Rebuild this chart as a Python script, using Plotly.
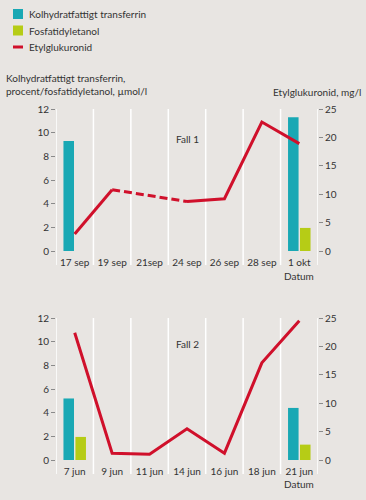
import plotly.graph_objects as go

# ---------------- data ----------------
categories1 = ["17 sep", "19 sep", "21sep", "24 sep", "26 sep", "28 sep", "1 okt"]
cdt1 = [9.3, None, None, None, None, None, 11.3]        # Kolhydratfattigt transferrin, %
peth1 = [None, None, None, None, None, None, 1.95]      # Fosfatidyletanol, µmol/l
etg1 = [3.0, 10.8, None, 8.7, 9.2, 22.7, 18.9]          # Etylglukuronid, mg/l

categories2 = ["7 jun", "9 jun", "11 jun", "14 jun", "16 jun", "18 jun", "21 jun"]
cdt2 = [5.2, None, None, None, None, None, 4.4]
peth2 = [1.95, None, None, None, None, None, 1.3]
etg2 = [22.4, 1.2, 1.0, 5.5, 1.2, 17.1, 24.5]

left_ticks = [0, 2, 4, 6, 8, 10, 12]
right_ticks = [0, 5, 10, 15, 20, 25]

# ---------------- style ----------------
W, H = 366, 500
ML, MR, MT, MB = 56, 48, 109, 40
PW, PH = W - ML - MR, H - MT - MB
BG = "#e8e5e2"
TEAL = "#19a8b4"
GREEN = "#b6cc16"
RED = "#d0102b"
TXT = "#333333"
FONT = "Lato"
FS = 10


def px_x(p):
    return (p - ML) / PW


def px_y(p):
    return 1 - (p - MT) / PH


dom1 = [px_y(251), 1.0]
dom2 = [0.0, px_y(318)]
panel_h = 251 - 109
ext = -14 / panel_h   # gridlines extend below the zero line

fig = go.Figure()

panels = [
    (categories1, cdt1, peth1, etg1, "x", "y", "y3"),
    (categories2, cdt2, peth2, etg2, "x2", "y2", "y4"),
]

shapes = []
for cats, cdt, peth, etg, xa, ya, ya_r in panels:
    # white column separators
    for i in range(len(cats) + 1):
        shapes.append(dict(type="line", xref=xa, yref=ya + " domain", x0=i - 0.5, x1=i - 0.5,
                           y0=ext, y1=1, layer="below", line=dict(color="white", width=1.5)))
    fig.add_trace(go.Bar(x=cats, y=cdt, marker=dict(color=TEAL, line=dict(width=0)),
                         xaxis=xa, yaxis=ya, showlegend=False, name="Kolhydratfattigt transferrin"))
    fig.add_trace(go.Bar(x=cats, y=peth, marker=dict(color=GREEN, line=dict(width=0)),
                         xaxis=xa, yaxis=ya, showlegend=False, name="Fosfatidyletanol"))
    fig.add_trace(go.Scatter(x=cats, y=etg, mode="lines", line=dict(color=RED, width=3),
                             connectgaps=False, xaxis=xa, yaxis=ya_r, showlegend=False,
                             name="Etylglukuronid"))
    # dashed segment across missing measurement
    for i, v in enumerate(etg):
        if v is None and 0 < i < len(etg) - 1:
            fig.add_trace(go.Scatter(x=[cats[i - 1], cats[i + 1]], y=[etg[i - 1], etg[i + 1]],
                                     mode="lines", line=dict(color=RED, width=3, dash="8px,4px"),
                                     xaxis=xa, yaxis=ya_r, showlegend=False))

xcommon = dict(type="category", ticks="", showgrid=False, showline=False, zeroline=False,
               tickangle=0, tickfont=dict(size=FS, color=TXT, family=FONT),
               ticklabelstandoff=4, range=[-0.5, 6.5])
ycommon = dict(ticks="outside", ticklen=4, tickcolor="#8a8a8a", tickwidth=1,
               showgrid=False, zeroline=False, showline=False,
               tickfont=dict(size=FS, color=TXT, family=FONT))

fig.update_layout(
    width=W, height=H,
    margin=dict(l=ML, r=MR, t=MT, b=MB, pad=0),
    paper_bgcolor=BG, plot_bgcolor=BG,
    barmode="group", bargap=0.36, bargroupgap=0.12,
    font=dict(family=FONT, size=FS, color=TXT),
    xaxis=dict(domain=[0, 1], anchor="y", **xcommon),
    xaxis2=dict(domain=[0, 1], anchor="y2", **xcommon),
    yaxis=dict(domain=dom1, anchor="x", range=[0, 12], tickvals=left_ticks, **ycommon),
    yaxis2=dict(domain=dom2, anchor="x2", range=[0, 12], tickvals=left_ticks, **ycommon),
    yaxis3=dict(domain=dom1, anchor="x", overlaying="y", side="right", range=[0, 25],
                tickvals=right_ticks, **ycommon),
    yaxis4=dict(domain=dom2, anchor="x2", overlaying="y2", side="right", range=[0, 25],
                tickvals=right_ticks, **ycommon),
)

# ---------------- legend (manual) ----------------
legend_items = [
    ("Kolhydratfattigt transferrin", TEAL, "box", 14),
    ("Fosfatidyletanol", GREEN, "box", 30.5),
    ("Etylglukuronid", RED, "line", 47),
]
annotations = []
for label, col, kind, yc in legend_items:
    if kind == "box":
        shapes.append(dict(type="rect", xref="paper", yref="paper",
                           x0=px_x(13), x1=px_x(23), y0=px_y(yc - 5), y1=px_y(yc + 5),
                           fillcolor=col, line=dict(width=0)))
    else:
        shapes.append(dict(type="line", xref="paper", yref="paper",
                           x0=px_x(13), x1=px_x(23), y0=px_y(yc), y1=px_y(yc),
                           line=dict(color=col, width=3)))
    annotations.append(dict(text=label, xref="paper", yref="paper", x=px_x(27), y=px_y(yc),
                            xanchor="left", yanchor="middle", showarrow=False,
                            font=dict(size=FS, color=TXT)))

# axis titles
annotations.append(dict(text="Kolhydratfattigt transferrin,<br>procent/fosfatidyletanol, µmol/l",
                        xref="paper", yref="paper", x=px_x(4), y=px_y(84.5),
                        xanchor="left", yanchor="middle", align="left", showarrow=False,
                        font=dict(size=FS, color=TXT)))
annotations.append(dict(text="Etylglukuronid, mg/l", xref="paper", yref="paper",
                        x=px_x(363), y=px_y(92), xanchor="right", yanchor="middle",
                        showarrow=False, font=dict(size=FS, color=TXT)))

# panel labels
annotations.append(dict(text="Fall 1", xref="x", yref="paper", x=categories1[3], y=px_y(139),
                        xanchor="center", yanchor="middle", showarrow=False,
                        font=dict(size=FS, color=TXT)))
annotations.append(dict(text="Fall 2", xref="x2", yref="paper", x=categories2[3], y=px_y(344),
                        xanchor="center", yanchor="middle", showarrow=False,
                        font=dict(size=FS, color=TXT)))
annotations.append(dict(text="Datum", xref="x", yref="paper", x=categories1[-1], y=px_y(276),
                        xanchor="center", yanchor="middle", showarrow=False,
                        font=dict(size=FS, color=TXT)))
annotations.append(dict(text="Datum", xref="x2", yref="paper", x=categories2[-1], y=px_y(484),
                        xanchor="center", yanchor="middle", showarrow=False,
                        font=dict(size=FS, color=TXT)))

fig.update_layout(shapes=shapes, annotations=annotations)

fig.write_html(
    "out.html",
    config={"displayModeBar": False},
    post_script="document.body.style.margin='0';document.body.style.background='" + BG + "';",
)
